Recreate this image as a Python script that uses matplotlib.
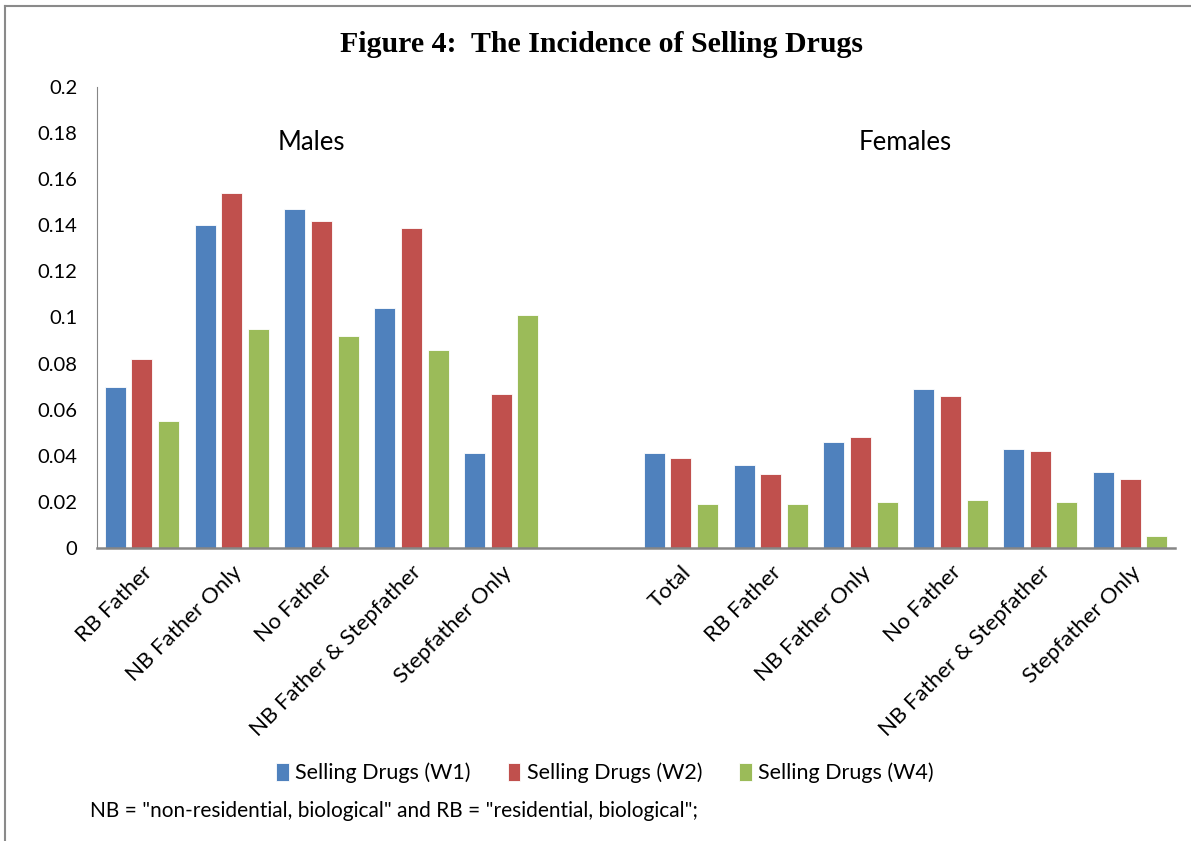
import matplotlib
matplotlib.use('Agg')
import matplotlib.pyplot as plt
import numpy as np
from matplotlib.lines import Line2D

# Data
male_cats = ['RB Father', 'NB Father Only', 'No Father', 'NB Father & Stepfather', 'Stepfather Only']
female_cats = ['Total', 'RB Father', 'NB Father Only', 'No Father', 'NB Father & Stepfather', 'Stepfather Only']

male_w1 = [0.070, 0.140, 0.147, 0.104, 0.041]
male_w2 = [0.082, 0.154, 0.142, 0.139, 0.067]
male_w4 = [0.055, 0.095, 0.092, 0.086, 0.101]

female_w1 = [0.041, 0.036, 0.046, 0.069, 0.043, 0.033]
female_w2 = [0.039, 0.032, 0.048, 0.066, 0.042, 0.030]
female_w4 = [0.019, 0.019, 0.020, 0.021, 0.020, 0.005]

series_names = ['Selling Drugs (W1)', 'Selling Drugs (W2)', 'Selling Drugs (W4)']
colors = ['#4F81BD', '#C0504D', '#9BBB59']
yticks = [0, 0.02, 0.04, 0.06, 0.08, 0.1, 0.12, 0.14, 0.16, 0.18, 0.2]
ytick_labels = ['0', '0.02', '0.04', '0.06', '0.08', '0.1', '0.12', '0.14', '0.16', '0.18', '0.2']

# Males in slots 0-4, one empty slot, females in 6-11
labels = male_cats + [''] + female_cats
x = np.arange(len(labels))
w1 = male_w1 + [np.nan] + female_w1
w2 = male_w2 + [np.nan] + female_w2
w4 = male_w4 + [np.nan] + female_w4

plt.rcParams['font.family'] = ['Lato', 'DejaVu Sans']

fig = plt.figure(figsize=(11.91, 8.41), dpi=100)
ax = fig.add_axes([97/1191, 1-548/841, 1078/1191, 461/841])

bw = 0.235
step = 0.297
for i, (vals, c, name) in enumerate(zip([w1, w2, w4], colors, series_names)):
    ax.bar(x + (i-1)*step, vals, width=bw, color=c, edgecolor='white', linewidth=0.6, label=name)

ax.set_xlim(-0.5, len(labels)-0.5)
ax.set_ylim(0, 0.2)
ax.set_yticks(yticks)
ax.set_yticklabels(ytick_labels, fontsize=14.5)
ax.set_xticks(x)
ax.set_xticklabels(labels, rotation=45, ha='right', rotation_mode='anchor', fontsize=16)
ax.tick_params(axis='both', length=0)
ax.tick_params(axis='x', pad=10)
ax.tick_params(axis='y', pad=14)

for s in ['top', 'right']:
    ax.spines[s].set_visible(False)
ax.spines['left'].set_color('#868686')
ax.spines['bottom'].set_color('#868686')
ax.spines['bottom'].set_linewidth(1.8)

ax.text(0.1985, 0.88, 'Males', transform=ax.transAxes, ha='center', va='center', fontsize=18.5)
ax.text(0.7495, 0.88, 'Females', transform=ax.transAxes, ha='center', va='center', fontsize=18.5)

fig.text(0.505, 1-45/841, 'Figure 4:  The Incidence of Selling Drugs', ha='center', va='center',
         fontsize=21.5, fontweight='bold', family='Liberation Serif')

fig.legend(loc='center', bbox_to_anchor=(0.508, 1-773/841), ncol=3, frameon=False,
           fontsize=15.5, handlelength=0.6, handleheight=0.9, handletextpad=0.3, columnspacing=1.7)

fig.text(90/1191, 1-811/841, 'NB = "non-residential, biological" and RB = "residential, biological";',
         ha='left', va='center', fontsize=15)

# Frame lines of the chart area (top and left)
fig.add_artist(Line2D([5/1191, 1], [1-6/841, 1-6/841], color='#8a8a8a', linewidth=1.5))
fig.add_artist(Line2D([5/1191, 5/1191], [0, 1-6/841], color='#8a8a8a', linewidth=1.5))

fig.savefig('out.png', dpi=100)
